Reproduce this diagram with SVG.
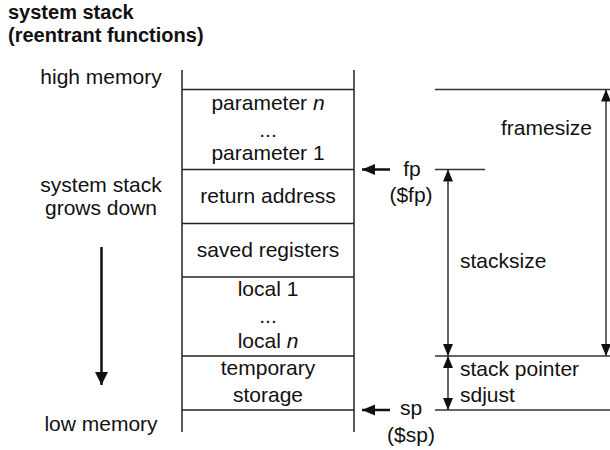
<svg xmlns="http://www.w3.org/2000/svg" width="610" height="450" viewBox="0 0 610 450">
  <style>
    text { font-family: "Liberation Sans", Arial, sans-serif; font-size: 21px; fill: #111; }
    .title { font-weight: bold; font-size: 20px; }
    .mid { text-anchor: middle; }
    .box { stroke: #222; stroke-width: 1.5; fill: none; }
    .dim { stroke: #333; stroke-width: 1.5; fill: none; }
    .ptr { stroke: #111; stroke-width: 2.5; fill: none; }
  </style>
  <defs>
    <marker id="dimHead" markerUnits="userSpaceOnUse" markerWidth="12" markerHeight="14" refX="12" refY="6" orient="auto-start-reverse" viewBox="0 0 12 12">
      <path d="M0,1 L12,6 L0,11 Z" fill="#111"/>
    </marker>
    <marker id="ptrHead" markerUnits="userSpaceOnUse" markerWidth="13" markerHeight="12" refX="13" refY="6" orient="auto" viewBox="0 0 13 12">
      <path d="M0,0.5 L13,6 L0,11.5 Z" fill="#111"/>
    </marker>
    <marker id="bigHead" markerUnits="userSpaceOnUse" markerWidth="13" markerHeight="14" refX="13" refY="7" orient="auto" viewBox="0 0 13 14">
      <path d="M0,0.5 L13,7 L0,13.5 Z" fill="#111"/>
    </marker>
  </defs>

  <!-- heading -->
  <text class="title" x="8" y="18.5">system stack</text>
  <text class="title" x="8" y="41.5">(reentrant functions)</text>

  <!-- left-hand labels -->
  <g id="label-high">
    <text class="mid" x="101" y="84">high memory</text>
  </g>
  <g id="label-grows">
    <text class="mid" x="101" y="192">system stack</text>
    <text class="mid" x="101" y="215">grows down</text>
  </g>
  <g id="label-low">
    <text class="mid" x="101" y="431">low memory</text>
  </g>

  <!-- stack frame column -->
  <g id="stack">
    <line class="box" x1="182" y1="70" x2="182" y2="432"/>
    <line class="box" x1="354" y1="70" x2="354" y2="432"/>
    <line class="box" x1="182" y1="89.5" x2="354" y2="89.5"/>
    <line class="box" x1="182" y1="169.5" x2="354" y2="169.5"/>
    <line class="box" x1="182" y1="223.5" x2="354" y2="223.5"/>
    <line class="box" x1="182" y1="277" x2="354" y2="277"/>
    <line class="box" x1="182" y1="356" x2="354" y2="356"/>
    <line class="box" x1="182" y1="410" x2="354" y2="410"/>
  </g>
  <g id="slot-params">
    <text class="mid" x="268" y="110">parameter <tspan font-style="italic">n</tspan></text>
    <text class="mid" x="268" y="137">...</text>
    <text class="mid" x="268" y="160">parameter 1</text>
  </g>
  <g id="slot-return">
    <text class="mid" x="268" y="203">return address</text>
  </g>
  <g id="slot-saved">
    <text class="mid" x="268" y="257">saved registers</text>
  </g>
  <g id="slot-locals">
    <text class="mid" x="268" y="296">local 1</text>
    <text class="mid" x="268" y="323">...</text>
    <text class="mid" x="268" y="348">local <tspan font-style="italic">n</tspan></text>
  </g>
  <g id="slot-temp">
    <text class="mid" x="268" y="375">temporary</text>
    <text class="mid" x="268" y="402">storage</text>
  </g>

  <!-- pointer labels -->
  <g id="label-fp">
    <text class="mid" x="412" y="176">fp</text>
    <text class="mid" x="411" y="202">($fp)</text>
  </g>
  <g id="label-sp">
    <text class="mid" x="411" y="415">sp</text>
    <text class="mid" x="411" y="442">($sp)</text>
  </g>

  <!-- dimension labels -->
  <g id="label-framesize"><text x="501" y="135">framesize</text></g>
  <g id="label-stacksize"><text x="460" y="268">stacksize</text></g>
  <g id="label-adjust">
    <text x="460" y="376">stack pointer</text>
    <text x="460" y="402">sdjust</text>
  </g>

  <!-- connectors -->
  <g id="connectors">
    <!-- growth direction -->
    <line class="ptr" stroke-width="3" x1="101.5" y1="247" x2="101.5" y2="385" marker-end="url(#bigHead)"/>
    <!-- fp / sp pointers -->
    <line class="ptr" x1="390" y1="169.5" x2="362" y2="169.5" marker-end="url(#ptrHead)"/>
    <line class="ptr" x1="390" y1="410" x2="362" y2="410" marker-end="url(#ptrHead)"/>
    <!-- extension lines -->
    <line class="dim" x1="435" y1="89.5" x2="610" y2="89.5"/>
    <line class="dim" x1="435" y1="169.5" x2="485" y2="169.5"/>
    <line class="dim" x1="435" y1="356" x2="610" y2="356"/>
    <line class="dim" x1="435" y1="410" x2="610" y2="410"/>
    <!-- dimension arrows -->
    <line class="dim" x1="606" y1="89.5" x2="606" y2="356" marker-start="url(#dimHead)" marker-end="url(#dimHead)"/>
    <line class="dim" x1="448" y1="169.5" x2="448" y2="356" marker-start="url(#dimHead)" marker-end="url(#dimHead)"/>
    <line class="dim" x1="448" y1="356" x2="448" y2="410" marker-start="url(#dimHead)" marker-end="url(#dimHead)"/>
  </g>
</svg>
